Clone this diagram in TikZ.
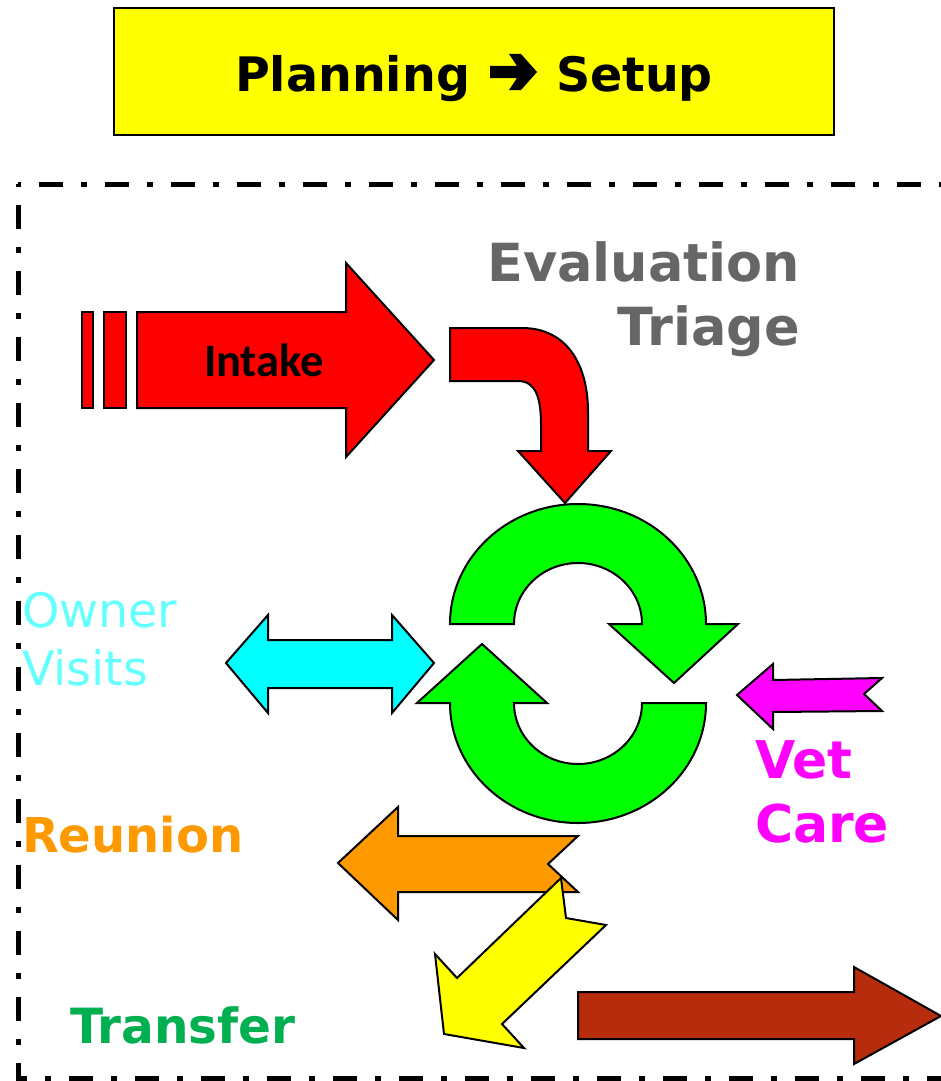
\documentclass[tikz,border=0pt]{standalone}
\usepackage{fontspec}
\setmainfont{DejaVu Sans}
\newfontfamily\carlito{Carlito}
\definecolor{brownred}{RGB}{184,44,14}
\definecolor{orng}{RGB}{255,153,0}
\definecolor{txtgray}{RGB}{102,102,102}
\definecolor{ownercol}{RGB}{102,255,255}
\definecolor{xfer}{RGB}{0,176,80}
\definecolor{grn}{RGB}{0,255,0}
\definecolor{rd}{RGB}{255,0,0}
\definecolor{yel}{RGB}{255,255,0}
\definecolor{cyn}{RGB}{0,255,255}
\definecolor{mag}{RGB}{255,0,255}
\tikzset{
  shp/.style={draw=black, line width=2pt, line join=miter},
  lbl/.style={inner sep=0pt, outer sep=0pt},
  bigbold/.style={lbl, font=\bfseries\fontsize{#1}{#1}\selectfont},
  bigreg/.style={lbl, font=\fontsize{#1}{#1}\selectfont},
  border/.style={line width=5pt, dash pattern=on 24pt off 18pt on 6pt off 18pt, dash phase=45pt}
}
\begin{document}
\begin{tikzpicture}[x=1pt,y=-1pt]
\useasboundingbox (0,0) rectangle (941,1081);
\clip (0,0) rectangle (941,1081);
% title
\draw[line width=2pt, fill=yel] (114,8) rectangle (834,135);
\node[bigbold=47.5, anchor=base east] (plan) at (470,92) {Planning};
\node[bigbold=47.5, anchor=base west] (setup) at (556,92) {Setup};
\fill[black] (490,66) -- (517,66) -- (509,54) -- (521,54) -- (537,72) -- (521,90) -- (509,90) -- (517,78) -- (490,78) -- cycle;
% dash-dot frame
\draw[border] (18,184) -- (980,184);
\draw[border] (18,184) -- (18,1078) -- (980,1078);
% intake arrow
\draw[shp, fill=rd] (82,312) rectangle (93,408);
\draw[shp, fill=rd] (104,312) rectangle (126,408);
\draw[shp, fill=rd] (137,312) -- (346,312) -- (346,263) -- (434,360) -- (346,457) -- (346,408) -- (137,408) -- cycle;
\node[lbl, font=\carlito\bfseries\fontsize{46.5}{46.5}\selectfont] (intake) at (264,360) {Intake};
% bent arrow
\draw[shp, fill=rd] (450,328) -- (522,328) .. controls (565,328) and (588,362) .. (588,412) -- (588,451) -- (611,451) -- (565,503) -- (518,451) -- (541,451) -- (541,425) .. controls (541,398) and (536,381) .. (518,381) -- (450,381) -- cycle;
% green cycle arrows
\draw[shp, fill=grn] (450,624) arc[start angle=180, end angle=360, x radius=128, y radius=120] -- (738,624) -- (674,683) -- (609,624) -- (642,624) arc[start angle=360, end angle=180, x radius=64, y radius=61] -- cycle;
\draw[shp, fill=grn] (642,703) -- (706,703) arc[start angle=0, end angle=180, x radius=128, y radius=120] -- (417,703) -- (482,644) -- (547,703) -- (514,703) arc[start angle=180, end angle=0, x radius=64, y radius=61] -- cycle;
% cyan double arrow
\draw[shp, fill=cyn] (226,663) -- (268,615) -- (268,640) -- (392,640) -- (392,615) -- (434,663) -- (392,713) -- (392,688) -- (268,688) -- (268,713) -- cycle;
% magenta arrow
\draw[shp, fill=mag] (737,695) -- (773,664) -- (773,680) -- (882,678) -- (864,694) -- (882,711) -- (773,712) -- (773,729) -- cycle;
% orange arrow
\draw[shp, fill=orng] (338,863) -- (398,807) -- (398,836) -- (578,836) -- (548,864) -- (578,892) -- (398,892) -- (398,920) -- cycle;
% yellow arrow
\draw[shp, fill=yel] (561,878) -- (566,918) -- (606,925) -- (502,1024) -- (524,1048) -- (444,1034) -- (435,954) -- (457,978) -- cycle;
% brown arrow
\draw[shp, fill=brownred] (578,992) -- (854,992) -- (854,967) -- (941,1016) -- (854,1064) -- (854,1039) -- (578,1039) -- cycle;
% labels
\node[bigbold=52.5, text=txtgray, anchor=base east] (eval) at (800,281) {Evaluation};
\node[bigbold=52.5, text=txtgray, anchor=base east] (triage) at (800,345) {Triage};
\node[bigreg=47.5, text=ownercol, anchor=base west] (owner) at (22,627) {Owner};
\node[bigreg=47.5, text=ownercol, anchor=base west] (visits) at (22,685) {Visits};
\node[bigbold=52, text=mag, anchor=base west] (vet) at (755,778) {Vet};
\node[bigbold=52, text=mag, anchor=base west] (care) at (755,842) {Care};
\node[bigbold=48, text=orng, anchor=base west] (reunion) at (22,852) {Reunion};
\node[bigbold=48.5, text=xfer, anchor=base west] (transfer) at (70,1043) {Transfer};
\end{tikzpicture}
\end{document}
